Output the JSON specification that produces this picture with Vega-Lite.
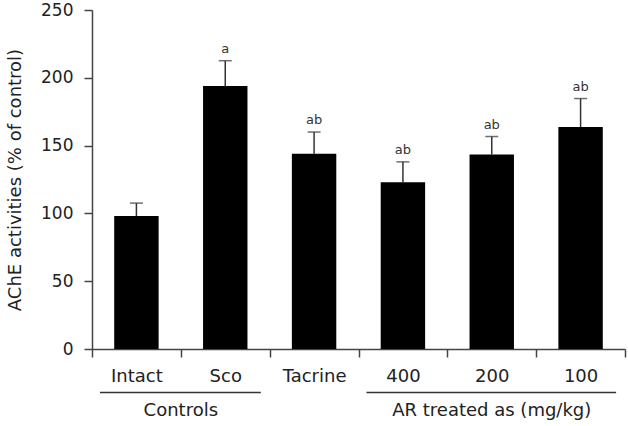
{
  "$schema": "https://vega.github.io/schema/vega-lite/v6.json",
  "autosize": {"type": "none"},
  "padding": {"left": 92, "top": 10, "right": 3, "bottom": 77},
  "width": 533,
  "height": 339,
  "background": "white",
  "config": {
    "view": {"stroke": null},
    "font": "DejaVu Sans",
    "axis": {
      "domainColor": "#444",
      "domainWidth": 1.5,
      "tickColor": "#444",
      "tickWidth": 1.5,
      "tickSize": 8,
      "labelColor": "#222",
      "titleColor": "#222",
      "labelFont": "DejaVu Sans",
      "titleFont": "DejaVu Sans",
      "grid": false
    }
  },
  "datasets": {
    "bars": [
      {"group": "Intact", "value": 98, "err": 107.6, "sig": ""},
      {"group": "Sco", "value": 194, "err": 212.6, "sig": "a"},
      {"group": "Tacrine", "value": 144, "err": 160, "sig": "ab"},
      {"group": "400", "value": 123, "err": 138, "sig": "ab"},
      {"group": "200", "value": 143.5, "err": 156.7, "sig": "ab"},
      {"group": "100", "value": 163.7, "err": 184.7, "sig": "ab"}
    ],
    "groups": [
      {"name": "Controls", "from": "Intact", "to": "Sco"},
      {"name": "AR treated as (mg/kg)", "from": "400", "to": "100"}
    ]
  },
  "layer": [
    {
      "data": {"name": "bars"},
      "mark": {"type": "rule", "color": "#333", "strokeWidth": 1.5},
      "encoding": {
        "x": {"field": "group", "type": "nominal"},
        "y": {"field": "value", "type": "quantitative"},
        "y2": {"field": "err"}
      }
    },
    {
      "data": {"name": "bars"},
      "mark": {"type": "tick", "color": "#333", "thickness": 1.5, "size": 13, "orient": "horizontal"},
      "encoding": {
        "x": {"field": "group", "type": "nominal"},
        "y": {"field": "err", "type": "quantitative"}
      }
    },
    {
      "data": {"name": "bars"},
      "mark": {"type": "bar", "color": "black", "width": {"band": 0.5}},
      "encoding": {
        "x": {
          "field": "group",
          "type": "nominal",
          "scale": {"domain": ["Intact", "Sco", "Tacrine", "400", "200", "100"], "paddingInner": 0, "paddingOuter": 0},
          "axis": {
            "title": null,
            "labelAngle": 0,
            "labelAlign": "center",
            "labelFontSize": 18,
            "labelPadding": 19,
            "tickBand": "extent"
          }
        },
        "y": {
          "field": "value",
          "type": "quantitative",
          "scale": {"domain": [0, 250], "nice": false},
          "axis": {
            "title": "AChE activities (% of control)",
            "titleFontSize": 18,
            "titleFontWeight": "normal",
            "titlePadding": 16,
            "labelFontSize": 17,
            "labelPadding": 11,
            "values": [0, 50, 100, 150, 200, 250]
          }
        }
      }
    },
    {
      "data": {"name": "bars"},
      "mark": {"type": "text", "fontSize": 13, "color": "#333", "baseline": "alphabetic", "dy": -8},
      "encoding": {
        "x": {"field": "group", "type": "nominal"},
        "y": {"field": "err", "type": "quantitative"},
        "text": {"field": "sig"}
      }
    },
    {
      "data": {"name": "groups"},
      "mark": {"type": "rule", "color": "#333", "strokeWidth": 1.5},
      "encoding": {
        "x": {"field": "from", "type": "nominal", "bandPosition": 0.09},
        "x2": {"field": "to", "bandPosition": 0.9},
        "y": {"datum": -32}
      }
    },
    {
      "data": {"values": [{"name": "Controls", "at": "Intact"}]},
      "mark": {"type": "text", "fontSize": 18, "color": "#222", "baseline": "middle"},
      "encoding": {
        "x": {"field": "at", "type": "nominal", "bandPosition": 1},
        "y": {"datum": -46},
        "text": {"field": "name"}
      }
    },
    {
      "data": {"values": [{"name": "AR treated as (mg/kg)", "at": "200"}]},
      "mark": {"type": "text", "fontSize": 18, "color": "#222", "baseline": "middle"},
      "encoding": {
        "x": {"field": "at", "type": "nominal", "bandPosition": 0.5},
        "y": {"datum": -46},
        "text": {"field": "name"}
      }
    }
  ]
}
